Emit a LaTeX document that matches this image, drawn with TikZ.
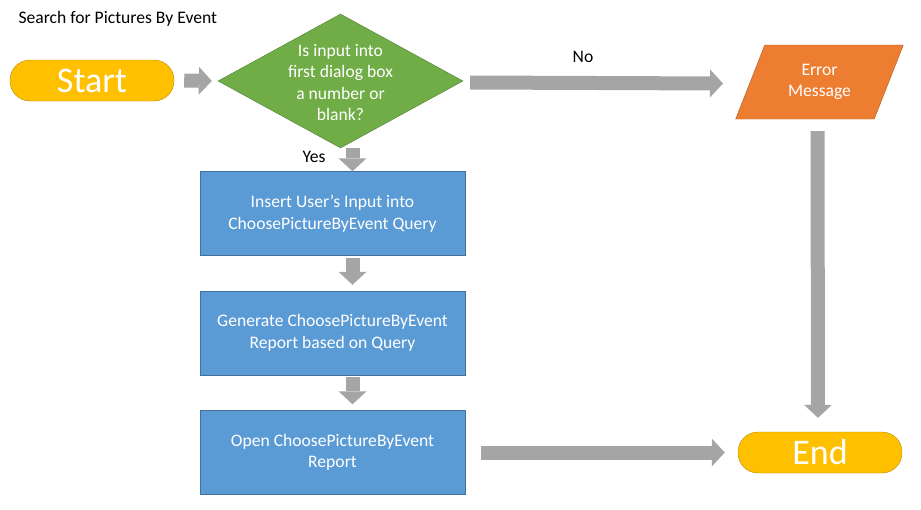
\documentclass[tikz,border=0pt]{standalone}
\usepackage{fontspec}
\setmainfont{Carlito}
\usepackage{xcolor}
\usetikzlibrary{shapes.geometric, arrows.meta, positioning}
\definecolor{startyellow}{HTML}{FFC000}
\definecolor{startedge}{HTML}{BC8C00}
\definecolor{decgreen}{HTML}{70AD47}
\definecolor{decedge}{HTML}{507E32}
\definecolor{errorange}{HTML}{ED7D31}
\definecolor{erredge}{HTML}{AE5A21}
\definecolor{stepblue}{HTML}{5B9BD5}
\definecolor{stepedge}{HTML}{41719C}
\definecolor{arrowgray}{HTML}{A5A5A5}
\newcommand{\bodyfont}{\fontsize{17.6}{21.5}\selectfont}
\newcommand{\bigfont}{\fontsize{36}{40}\selectfont}
\tikzset{
  terminal/.style={rectangle, rounded corners=20, minimum width=164, minimum height=41,
    inner sep=0, fill=startyellow, draw=startedge, text=white, font=\bigfont},
  decision/.style={diamond, minimum width=245, minimum height=134, inner sep=0,
    fill=decgreen, draw=decedge},
  errbox/.style={trapezium, trapezium left angle=65, trapezium right angle=115,
    trapezium stretches=true, minimum width=169, minimum height=74, inner sep=0,
    fill=errorange, draw=erredge, text=white, align=center, font=\bodyfont},
  process/.style={rectangle, minimum width=265, minimum height=84, inner sep=0,
    fill=stepblue, draw=stepedge, text=white, align=center, font=\bodyfont},
  blockarrow/.style={arrowgray, line width=14pt,
    -{Triangle[length=13pt, width=28pt, line width=0pt]}}
}

\begin{document}
\begin{tikzpicture}[x=1pt, y=-1pt]
    \useasboundingbox (0,0) rectangle (921,509);

    % Title
    \node[anchor=west, font=\bodyfont] (title) at (15,19) {Search for Pictures By Event};

    % Shapes
    \node[terminal] (start) at (92,80.5) {Start};
    \node[decision] (dec) at (340.5,81) {};
    \node[align=center, text=white, font=\bodyfont] (dectext) at (340.5,82.5)
        {Is input into\\first dialog box\\a number or\\blank?};
    \node[errbox] (err) at (819.5,82) {Error\\Message};
    \node[process] (insert) at (332.5,213.5) {Insert User’s Input into\\ChoosePictureByEvent Query};
    \node[process] (generate) at (332.5,333) {Generate ChoosePictureByEvent\\Report based on Query};
    \node[process] (open) at (332.5,452.5) {Open ChoosePictureByEvent\\Report};
    \node[terminal] (end) at (820,452.5) {End};

    % Block arrows
    \draw[blockarrow] ([xshift=10]start.east) -- ([xshift=-6]dec.west);
    \draw[blockarrow] ([xshift=7,yshift=-1.5]dec.east) -- ([xshift=-27,yshift=-1.5]err.west);
    \draw[blockarrow] ([xshift=20]insert.north |- dec.south) -- ([xshift=20]insert.north);
    \draw[blockarrow] ([xshift=20,yshift=-2]insert.south) -- ([xshift=20,yshift=6]generate.north);
    \draw[blockarrow] ([xshift=20,yshift=-2]generate.south) -- ([xshift=20,yshift=6]open.north);
    \draw[blockarrow] ([xshift=16]open.east) -- ([xshift=-13]end.west);
    \draw[blockarrow] ([xshift=-2,yshift=-12]err.south) -- ([xshift=-2,yshift=14]end.north);

    % Branch labels
    \node[font=\bodyfont] (nolabel) at (583,57) {No};
    \node[font=\bodyfont] (yeslabel) at (314,157) {Yes};
\end{tikzpicture}
\end{document}
